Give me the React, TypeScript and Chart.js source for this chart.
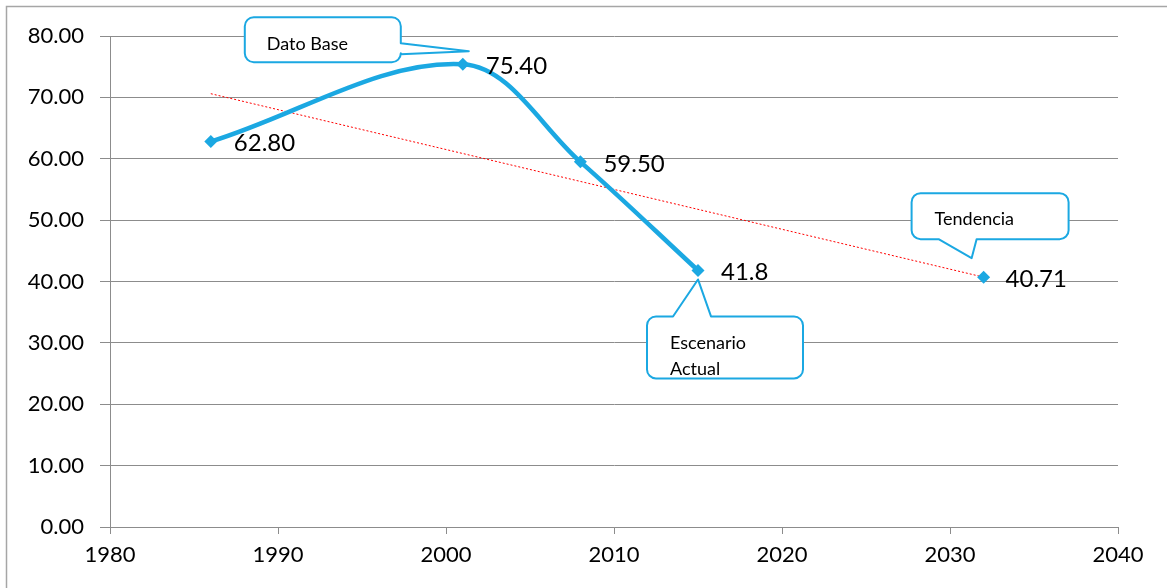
import React, { useEffect, useRef } from "react";
import { Chart, registerables } from "chart.js";

Chart.register(...registerables);

// ---- data ----
const years = [1986, 2001, 2008, 2015];
const values = [62.8, 75.4, 59.5, 41.8];
const valueLabels = ["62.80", "75.40", "59.50", "41.8"];
const projYears = [2032];
const projValues = [40.71];
const projLabels = ["40.71"];
const trendYears = [1986, 2032];
const trendValues = [70.6, 40.71];
const xTicks = [1980, 1990, 2000, 2010, 2020, 2030, 2040];
const yTicks = [0, 10, 20, 30, 40, 50, 60, 70, 80];
const calloutTexts = [["Dato Base"], ["Escenario", "Actual"], ["Tendencia"]];

const BLUE = "#1BA8E2";
const FONT = "Lato, 'Noto Sans', sans-serif";

function calloutPath(
  ctx: CanvasRenderingContext2D,
  l: number, t: number, r: number, b: number, rad: number,
  side: string, a: number, c: number, tx: number, ty: number
) {
  ctx.beginPath();
  ctx.moveTo(l + rad, t);
  if (side === "top") {
    ctx.lineTo(a, t);
    ctx.lineTo(tx, ty);
    ctx.lineTo(c, t);
  }
  ctx.lineTo(r - rad, t);
  ctx.arcTo(r, t, r, t + rad, rad);
  if (side === "right") {
    ctx.lineTo(r, a);
    ctx.lineTo(tx, ty);
    ctx.lineTo(r, c);
  }
  ctx.lineTo(r, b - rad);
  ctx.arcTo(r, b, r - rad, b, rad);
  if (side === "bottom") {
    ctx.lineTo(c, b);
    ctx.lineTo(tx, ty);
    ctx.lineTo(a, b);
  }
  ctx.lineTo(l + rad, b);
  ctx.arcTo(l, b, l, b - rad, rad);
  ctx.lineTo(l, t + rad);
  ctx.arcTo(l, t, l + rad, t, rad);
  ctx.closePath();
}

const decorPlugin = {
  id: "decor",
  beforeDraw(chart: any) {
    const ctx = chart.ctx;
    ctx.save();
    ctx.fillStyle = "#ffffff";
    ctx.fillRect(0, 0, chart.width, chart.height);
    ctx.strokeStyle = "#a6a6a6";
    ctx.lineWidth = 1.5;
    ctx.beginPath();
    ctx.moveTo(6.5, chart.height + 2);
    ctx.lineTo(6.5, 6.5);
    ctx.lineTo(chart.width + 2, 6.5);
    ctx.stroke();
    ctx.restore();
  },
  afterDatasetsDraw(chart: any) {
    const ctx = chart.ctx;
    const xs = chart.scales.x;
    const ys = chart.scales.y;
    ctx.save();
    ctx.fillStyle = "#000";
    ctx.font = `24px ${FONT}`;
    ctx.textBaseline = "middle";
    ctx.textAlign = "left";
    years.forEach((yr, i) => {
      ctx.fillText(valueLabels[i], xs.getPixelForValue(yr) + 23, ys.getPixelForValue(values[i]) + 2);
    });
    projYears.forEach((yr, i) => {
      ctx.fillText(projLabels[i], xs.getPixelForValue(yr) + 22, ys.getPixelForValue(projValues[i]) + 2);
    });

    const draw = (
      l: number, t: number, r: number, b: number,
      side: string, a: number, c: number, tx: number, ty: number,
      lines: string[], textX: number, textY: number
    ) => {
      calloutPath(ctx, l, t, r, b, 9, side, a, c, tx, ty);
      ctx.fillStyle = "#fff";
      ctx.fill();
      ctx.strokeStyle = BLUE;
      ctx.lineWidth = 2;
      ctx.lineJoin = "round";
      ctx.stroke();
      ctx.fillStyle = "#000";
      ctx.font = `18px ${FONT}`;
      ctx.textBaseline = "middle";
      lines.forEach((ln, k) => ctx.fillText(ln, textX, textY + k * 26));
    };
    // Dato Base (anchored to 2001 point)
    let px = xs.getPixelForValue(years[1]);
    let py = ys.getPixelForValue(values[1]);
    draw(px - 218, py - 47, px - 62, py - 2, "right", py - 21, py - 10, px + 6, py - 13,
      calloutTexts[0], px - 196, py - 20);
    // Escenario Actual (anchored to 2015 point)
    px = xs.getPixelForValue(years[3]);
    py = ys.getPixelForValue(values[3]);
    draw(px - 51, py + 46, px + 105, py + 108, "top", px - 25, px + 13, px, py + 9,
      calloutTexts[1], px - 28, py + 73);
    // Tendencia (anchored to 2032 point)
    px = xs.getPixelForValue(projYears[0]);
    py = ys.getPixelForValue(projValues[0]);
    draw(px - 72, py - 84, px + 85, py - 38, "bottom", px - 45, px - 7, px - 12, py - 19,
      calloutTexts[2], px - 49, py - 58);
    ctx.restore();
  },
};

export default function App() {
  const ref = useRef<HTMLCanvasElement>(null);
  useEffect(() => {
    if (!ref.current) return;
    const chart = new Chart(ref.current, {
      type: "scatter",
      data: {
        datasets: [
          {
            label: "Serie",
            data: years.map((x, i) => ({ x, y: values[i] })),
            showLine: true,
            borderColor: BLUE,
            backgroundColor: BLUE,
            borderWidth: 4.5,
            tension: 0.35,
            cubicInterpolationMode: "default",
            pointStyle: "rectRot",
            pointRadius: 6.5,
            pointBorderWidth: 0,
            order: 0,
          },
          {
            label: "Proyección",
            data: projYears.map((x, i) => ({ x, y: projValues[i] })),
            showLine: false,
            borderColor: BLUE,
            backgroundColor: BLUE,
            pointStyle: "rectRot",
            pointRadius: 6.5,
            pointBorderWidth: 0,
            order: 1,
          },
          {
            label: "Tendencia",
            data: trendYears.map((x, i) => ({ x, y: trendValues[i] })),
            showLine: true,
            borderColor: "#ff0000",
            borderWidth: 1,
            borderDash: [2, 2],
            pointRadius: 0,
            order: 2,
          },
        ],
      },
      options: {
        animation: false,
        responsive: false,
        layout: { padding: { left: 0, right: 49, top: 36, bottom: 0 } },
        plugins: { legend: { display: false }, tooltip: { enabled: false }, title: { display: false } },
        scales: {
          x: {
            type: "linear",
            min: 1980,
            max: 2040,
            afterBuildTicks: (s: any) => { s.ticks = xTicks.map((v) => ({ value: v })); },
            afterFit: (s: any) => { s.height = 61; },
            grid: { drawOnChartArea: false, drawTicks: true, tickLength: 7, color: "#8c8c8c" },
            border: { color: "#8c8c8c", width: 1 },
            ticks: { color: "#000", font: { family: FONT, size: 22 }, padding: 8, callback: (v: any) => String(v) },
          },
          y: {
            min: 0,
            max: 80,
            afterBuildTicks: (s: any) => { s.ticks = yTicks.map((v) => ({ value: v })); },
            afterFit: (s: any) => { s.width = 110; },
            grid: { color: "#8c8c8c", tickLength: 10, drawTicks: true },
            border: { color: "#8c8c8c", width: 1 },
            ticks: { color: "#000", font: { family: FONT, size: 22 }, padding: 16, callback: (v: any) => Number(v).toFixed(2) },
          },
        },
      },
      plugins: [decorPlugin],
    } as any);
    return () => chart.destroy();
  }, []);
  return (
    <div style={{ position: "fixed", left: 0, top: 0, width: 1167, height: 588, background: "#fff" }}>
      <canvas ref={ref} width={1167} height={588} style={{ display: "block" }} />
    </div>
  );
}
